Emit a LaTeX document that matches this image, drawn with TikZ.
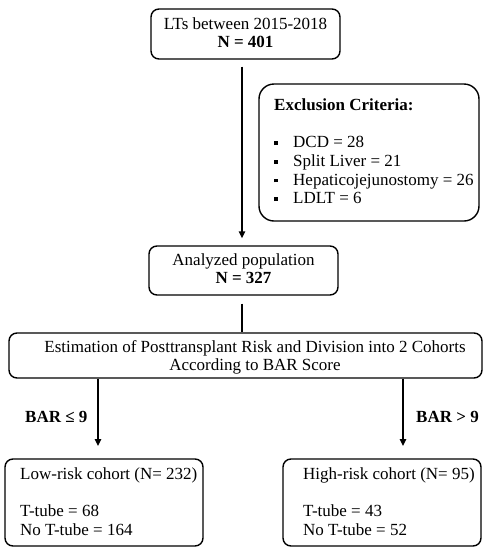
\documentclass[tikz,border=0pt]{standalone}
\usepackage{fontspec}
\setmainfont{Liberation Serif}
\usetikzlibrary{arrows.meta}
\newcommand{\sqbul}{\raisebox{2.6pt}{\rule{3.8pt}{3.8pt}}}
\newcommand{\topstrut}{\rule{0pt}{12pt}}
\begin{document}
\begin{tikzpicture}[x=1pt,y=-1pt,
  box/.style={draw, line width=1.4pt, rounded corners=8pt, inner sep=0pt},
  txt/.style={inner sep=0pt, font=\fontsize{17}{18.7}\selectfont},
  conn/.style={line width=1.4pt},
  arr/.style={line width=1.4pt, -{Triangle[width=6.5pt,length=7pt]}}]
\useasboundingbox (0,0) rectangle (488,550);
% boxes
\node[box, minimum width=189pt, minimum height=50pt] (top) at (245.5,34) {};
\node[box, rounded corners=15pt, minimum width=220pt, minimum height=137pt] (excl) at (369,152.5) {};
\node[box, minimum width=189pt, minimum height=49pt] (anal) at (243.5,270.5) {};
\node[box, minimum width=473pt, minimum height=45pt] (est) at (245.5,355.5) {};
\node[box, minimum width=198pt, minimum height=87pt] (low) at (104,502.5) {};
\node[box, minimum width=198pt, minimum height=87pt] (high) at (382,502.5) {};
% texts
\node[txt, anchor=north, align=center] (toptext) at (245.5,17) {\topstrut LTs between 2015-2018\\\textbf{N = 401}};
\node[txt, anchor=north west, align=left] (excltext) at (274,98) {\topstrut\textbf{Exclusion Criteria:}\\[18.7pt]
  \makebox[19pt][l]{\sqbul}DCD = 28\\
  \makebox[19pt][l]{\sqbul}Split Liver = 21\\
  \makebox[19pt][l]{\sqbul}Hepaticojejunostomy = 26\\
  \makebox[19pt][l]{\sqbul}LDLT = 6};
\node[txt, anchor=north, align=center] (analtext) at (243.5,253) {\topstrut Analyzed population\\\textbf{N = 327}};
\node[txt, anchor=north, align=center] (esttext) at (255,340) {\topstrut Estimation of Posttransplant Risk and Division into 2 Cohorts\\According to BAR Score};
\node[txt, anchor=north west, align=left] (lowtext) at (20,467) {\topstrut Low-risk cohort (N= 232)\\[18.7pt]T-tube = 68\\No T-tube = 164};
\node[txt, anchor=north west, align=left] (hightext) at (303,467) {\topstrut High-risk cohort (N= 95)\\[18.7pt]T-tube = 43\\No T-tube = 52};
\node[txt, anchor=base west] (barlow) at (25,422) {\textbf{BAR ≤ 9}};
\node[txt, anchor=base east] (barhigh) at (479,422) {\textbf{BAR > 9}};
% connectors
\draw[arr, shorten <=7pt, shorten >=7pt] (top.south -| 242,0) -- (anal.north -| 242,0);
\draw[conn, shorten <=8pt] (anal.south -| 242,0) -- (est.north -| 242,0);
\coordinate (lowin) at (98,459);
\coordinate (highin) at (403,459);
\draw[arr, shorten >=13pt] (est.south -| lowin) -- (lowin);
\draw[arr, shorten >=13pt] (est.south -| highin) -- (highin);
\end{tikzpicture}
\end{document}
